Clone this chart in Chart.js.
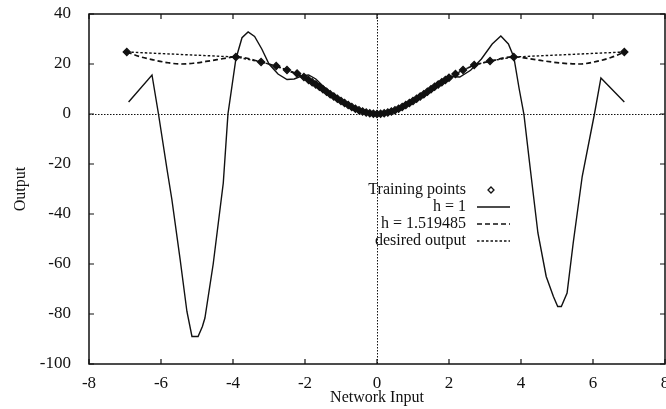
<!DOCTYPE html>
<html>
<head>
<meta charset="utf-8">
<script src="https://cdn.jsdelivr.net/npm/chart.js@4.4.0/dist/chart.umd.min.js"></script>
<style>
  html, body { margin: 0; padding: 0; background: #fff; }
  #wrap { width: 666px; height: 409px; }
</style>
</head>
<body>
<div id="wrap"><canvas id="chart" width="666" height="409"></canvas></div>
<script>
// training inputs and the desired output at each of them
const trainX = [-6.95, -3.92, -3.22, -2.80, -2.50, -2.22, -2.03, -1.90, -1.80, -1.70,
  -1.60, -1.50, -1.40, -1.30, -1.20, -1.10, -1.00, -0.90, -0.80, -0.70, -0.60,
  -0.50, -0.40, -0.30, -0.20, -0.10, 0.00,
  0.10, 0.20, 0.30, 0.40, 0.50, 0.60, 0.70, 0.80, 0.90, 1.00, 1.10, 1.20, 1.30,
  1.40, 1.50, 1.60, 1.70, 1.80, 1.90, 2.00, 2.18, 2.39, 2.70, 3.14, 3.80, 6.87];
const desiredY = [24.8, 22.8, 20.8, 19.2, 17.6, 16.2, 14.8, 13.6, 12.7, 11.8,
  10.9, 9.9, 8.9, 7.9, 7.0, 6.1, 5.2, 4.4, 3.6, 2.8, 2.1,
  1.5, 1.0, 0.6, 0.3, 0.1, 0.0,
  0.1, 0.3, 0.6, 1.0, 1.5, 2.1, 2.8, 3.6, 4.4, 5.2, 6.1, 7.0, 7.9,
  8.9, 9.9, 10.9, 11.8, 12.7, 13.6, 14.5, 16.0, 17.6, 19.6, 21.2, 22.8, 24.8];

// network response, h = 1
const h1X = [-6.90, -6.25, -6.07, -5.83, -5.70, -5.47, -5.28, -5.14, -4.97, -4.85,
  -4.78, -4.55, -4.27, -4.14, -3.92, -3.75, -3.58, -3.40, -3.20, -3.00, -2.75,
  -2.50, -2.30, -2.10, -1.90, -1.70, -1.50, -1.25, -1.00, -0.75, -0.50, -0.25,
  0.00, 0.25, 0.50, 0.75, 1.00, 1.25, 1.50, 1.75, 2.00, 2.30, 2.60, 2.90, 3.20,
  3.44, 3.65, 3.80, 3.95, 4.08, 4.25, 4.47, 4.70, 4.90, 5.02, 5.12, 5.28, 5.45,
  5.70, 6.04, 6.22, 6.87];
const h1Y = [4.8, 15.6, 0, -22.4, -34, -58, -79, -89, -89, -85,
  -81.6, -60, -27.6, 0, 22, 30.5, 32.8, 31, 26, 20, 16,
  13.8, 14, 15.2, 15.6, 14, 11.2, 8, 5.4, 3.3, 1.7, 0.5,
  0, 0.5, 1.7, 3.3, 5.2, 7.6, 10.2, 13, 15, 14.8, 17.5, 22, 28,
  31.2, 28, 22.8, 10, 0, -21, -47.6, -65, -73, -77, -77, -71.6, -51.6,
  -25, 0, 14.4, 4.8];

// network response, h = 1.519485
const h15X = [-6.95, -6.60, -6.20, -5.80, -5.46, -5.10, -4.63, -4.25, -3.92, -3.22,
  -2.80, -2.50, -2.00, -1.50, -1.00, -0.50, 0.00, 0.50, 1.00, 1.50, 2.00, 2.39,
  2.70, 3.14, 3.80, 4.20, 4.60, 5.10, 5.62, 6.18, 6.50, 6.87];
const h15Y = [24.8, 23.0, 21.6, 20.5, 20.0, 20.3, 21.3, 22.2, 22.9, 20.8,
  19.1, 17.5, 14.4, 9.8, 5.0, 2.0, 0, 2.0, 5.0, 9.8, 14.4, 17.5,
  19.5, 21.1, 22.9, 22.2, 21.3, 20.4, 20.0, 21.3, 22.6, 24.7];

const legendLabels = ['Training points', 'h = 1', 'h = 1.519485', 'desired output'];

const ink = '#111';
const serif = '"Liberation Serif", "Times New Roman", serif';

function pts(xs, ys) {
  return xs.map((x, i) => ({ x: x, y: ys[i] }));
}

// gnuplot-like frame: border, inward ticks on all sides, dotted zero axes, key
const frame = {
  id: 'frame',
  beforeDatasetsDraw(chart) {
    const { ctx, chartArea: a, scales: { x, y } } = chart;
    ctx.save();
    ctx.strokeStyle = ink;
    ctx.lineWidth = 1;
    ctx.setLineDash([1.5, 1.5]);
    const y0 = Math.round(y.getPixelForValue(0)) + 0.5;
    const x0 = Math.round(x.getPixelForValue(0)) + 0.5;
    ctx.beginPath();
    ctx.moveTo(a.left, y0); ctx.lineTo(a.right, y0);
    ctx.moveTo(x0, a.top); ctx.lineTo(x0, a.bottom);
    ctx.stroke();
    ctx.restore();
  },
  afterDatasetsDraw(chart) {
    const { ctx, chartArea: a, scales: { x, y } } = chart;
    ctx.save();
    ctx.strokeStyle = ink;
    ctx.lineWidth = 1.5;
    ctx.strokeRect(a.left, a.top, a.right - a.left, a.bottom - a.top);
    ctx.lineWidth = 1.2;
    ctx.beginPath();
    const len = 5;
    x.ticks.forEach(t => {
      const px = x.getPixelForValue(t.value);
      ctx.moveTo(px, a.bottom); ctx.lineTo(px, a.bottom - len);
      ctx.moveTo(px, a.top); ctx.lineTo(px, a.top + len);
    });
    y.ticks.forEach(t => {
      const py = y.getPixelForValue(t.value);
      ctx.moveTo(a.left, py); ctx.lineTo(a.left + len, py);
      ctx.moveTo(a.right, py); ctx.lineTo(a.right - len, py);
    });
    ctx.stroke();

    // key
    ctx.font = '16px ' + serif;
    ctx.fillStyle = ink;
    ctx.textAlign = 'right';
    ctx.textBaseline = 'middle';
    const textX = 466, sx0 = 477, sx1 = 510;
    const rows = [190, 207, 224, 241];
    chart.data.datasets.forEach((ds, i) => {
      const ry = rows[i];
      ctx.fillText(legendLabels[i], textX, ry);
      ctx.beginPath();
      if (i === 0) {
        const cx = 491, r = 3;
        ctx.setLineDash([]);
        ctx.lineWidth = 1.3;
        ctx.moveTo(cx, ry - r); ctx.lineTo(cx + r, ry);
        ctx.lineTo(cx, ry + r); ctx.lineTo(cx - r, ry);
        ctx.closePath();
        ctx.stroke();
      } else {
        ctx.setLineDash(ds.borderDash || []);
        ctx.lineWidth = ds.borderWidth;
        ctx.moveTo(sx0, ry); ctx.lineTo(sx1, ry);
        ctx.stroke();
      }
    });
    ctx.restore();
  }
};

new Chart(document.getElementById('chart'), {
  type: 'scatter',
  data: {
    datasets: [
      {
        label: legendLabels[0],
        data: pts(trainX, desiredY),
        showLine: false,
        pointStyle: 'rectRot',
        pointRadius: 3.6,
        pointBorderWidth: 1.2,
        pointBackgroundColor: ink,
        pointBorderColor: ink
      },
      {
        label: legendLabels[1],
        data: pts(h1X, h1Y),
        showLine: true,
        borderColor: ink,
        borderWidth: 1.4,
        pointRadius: 0,
        tension: 0
      },
      {
        label: legendLabels[2],
        data: pts(h15X, h15Y),
        showLine: true,
        borderColor: ink,
        borderWidth: 1.7,
        borderDash: [5, 3],
        pointRadius: 0,
        cubicInterpolationMode: 'monotone'
      },
      {
        label: legendLabels[3],
        data: pts(trainX, desiredY),
        showLine: true,
        borderColor: ink,
        borderWidth: 1.4,
        borderDash: [2.5, 2],
        pointRadius: 0,
        tension: 0
      }
    ]
  },
  options: {
    responsive: false,
    animation: false,
    layout: { autoPadding: false, padding: { top: 14, right: 1, left: 0, bottom: 0 } },
    plugins: { legend: { display: false }, tooltip: { enabled: false } },
    scales: {
      x: {
        type: 'linear',
        min: -8, max: 8,
        grid: { display: false },
        border: { display: false },
        ticks: { stepSize: 2, color: ink, padding: 1, font: { family: serif, size: 17 } },
        title: { display: true, text: 'Network Input', color: ink, padding: { top: 0, bottom: 2 },
          font: { family: serif, size: 16 } },
        afterFit: s => { s.height = 45; s.paddingLeft = 0; s.paddingRight = 0; }
      },
      y: {
        type: 'linear',
        min: -100, max: 40,
        grid: { display: false },
        border: { display: false },
        ticks: { stepSize: 20, color: ink, padding: 10, font: { family: serif, size: 17 } },
        title: { display: true, text: 'Output', color: ink, padding: { top: 11, bottom: 0 },
          font: { family: serif, size: 16 } },
        afterFit: s => { s.width = 89; s.paddingTop = 0; s.paddingBottom = 0; }
      }
    }
  },
  plugins: [frame]
});
</script>
</body>
</html>
